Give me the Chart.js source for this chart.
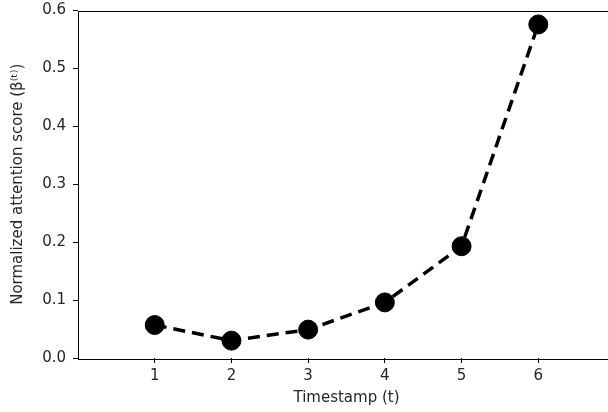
<!DOCTYPE html>
<html>
<head>
<meta charset="utf-8">
<script src="https://cdn.jsdelivr.net/npm/chart.js@4/dist/chart.umd.min.js"></script>
<style>
  html, body { margin: 0; padding: 0; background: #fff; overflow: hidden; width: 608px; height: 412px; }
  #wrap { width: 640px; height: 412px; }
</style>
</head>
<body>
<div id="wrap"><canvas id="attnChart" width="640" height="412"></canvas></div>
<script>
const timestamps = [1, 2, 3, 4, 5, 6];
const attentionScores = [0.057, 0.030, 0.049, 0.096, 0.193, 0.576];
const yTicks = [0.0, 0.1, 0.2, 0.3, 0.4, 0.5, 0.6];

const FONT = 'DejaVu Sans';
const TEXT = '#262626';

// closed box around the plot area, like matplotlib spines
const frame = {
  id: 'frame',
  afterDraw(chart) {
    const { ctx, chartArea: a } = chart;
    ctx.save();
    ctx.strokeStyle = '#000';
    ctx.lineWidth = 1;
    ctx.strokeRect(Math.round(a.left) + 0.5, Math.round(a.top) + 0.5,
      Math.round(a.right - a.left), Math.round(a.bottom - a.top));
    ctx.restore();
  }
};

new Chart(document.getElementById('attnChart'), {
  type: 'line',
  data: {
    datasets: [{
      data: timestamps.map((t, i) => ({ x: t, y: attentionScores[i] })),
      borderColor: '#000',
      borderWidth: 3.5,
      borderDash: [12, 7],
      pointRadius: 9.5,
      pointBackgroundColor: '#000',
      pointBorderColor: '#000',
      pointBorderWidth: 1,
      tension: 0,
      clip: false
    }]
  },
  options: {
    responsive: false,
    animation: false,
    layout: { padding: { top: 8, right: 25, left: 0, bottom: 0 } },
    plugins: { legend: { display: false }, tooltip: { enabled: false } },
    scales: {
      x: {
        type: 'linear',
        min: 0,
        max: 7,
        afterBuildTicks: axis => { axis.ticks = timestamps.map(v => ({ value: v })); },
        afterFit: axis => { axis.height = 54; axis.paddingLeft = 0; axis.paddingRight = 0; },
        grid: { drawOnChartArea: false, drawTicks: true, tickLength: 5, color: '#000' },
        border: { display: false },
        ticks: { color: TEXT, font: { family: FONT, size: 15 }, padding: 4, maxRotation: 0 },
        title: { display: true, text: 'Timestamp (t)', color: TEXT, font: { family: FONT, size: 15 }, padding: { top: 0, bottom: 5 } }
      },
      y: {
        min: 0,
        max: 0.6,
        afterBuildTicks: axis => { axis.ticks = yTicks.map(v => ({ value: v })); },
        afterFit: axis => { axis.width = 78; axis.paddingTop = 0; axis.paddingBottom = 0; },
        grid: { drawOnChartArea: false, drawTicks: true, tickLength: 5, color: '#000' },
        border: { display: false },
        ticks: { color: TEXT, font: { family: FONT, size: 15 }, padding: 7, callback: v => v.toFixed(1) },
        title: { display: true, text: 'Normalized attention score (β⁽ᵗ⁾)', color: TEXT, font: { family: FONT, size: 15 }, padding: { top: 9, bottom: 0 } }
      }
    }
  },
  plugins: [frame]
});
</script>
</body>
</html>
